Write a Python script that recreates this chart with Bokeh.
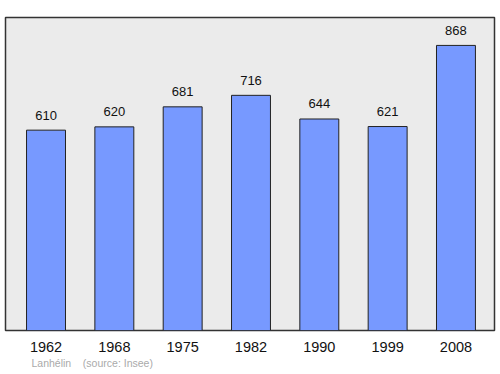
from bokeh.plotting import figure
from bokeh.models import FixedTicker, Range1d, ColumnDataSource, Title
from bokeh.core.properties import value
from bokeh.embed import file_html
from bokeh.resources import INLINE

years = ["1962", "1968", "1975", "1982", "1990", "1999", "2008"]
population = [610, 620, 681, 716, 644, 621, 868]

xs = list(range(len(years)))
src = ColumnDataSource(dict(x=xs, top=population, label=[str(v) for v in population]))

p = figure(width=500, height=374, output_backend="svg", toolbar_location=None,
           x_range=Range1d(-0.593, 6.564), y_range=Range1d(0, 953),
           min_border_left=5, min_border_right=6, min_border_top=17, min_border_bottom=44)
p.background_fill_color = "#ebebeb"
p.border_fill_color = "white"
p.outline_line_color = "#333333"
p.outline_line_width = 1.5
p.grid.visible = False
p.yaxis.visible = False

p.vbar(x="x", top="top", bottom=0, width=0.57, source=src,
       fill_color="#7799ff", line_color="#222222", line_width=1)
p.text(x="x", y="top", text="label", source=src, y_offset=-15,
       text_align="center", text_baseline="alphabetic",
       text_font=value("Liberation Sans"), text_font_size="13px", text_color="#111111")

ax = p.xaxis[0]
ax.ticker = FixedTicker(ticks=xs)
ax.major_label_overrides = {i: y for i, y in enumerate(years)}
ax.axis_line_color = None
ax.major_tick_line_color = None
ax.minor_tick_line_color = None
ax.major_tick_out = 0
ax.major_label_standoff = 11
ax.major_label_text_font = "Liberation Sans"
ax.major_label_text_font_size = "14.5px"
ax.major_label_text_color = "#111111"

t = Title(text="Lanhélin\u00a0\u00a0\u00a0\u00a0(source: Insee)", align="left", offset=26,
          text_font="Liberation Sans", text_font_size="10.5px",
          text_color="#aaaaaa", text_font_style="normal", standoff=0)
p.add_layout(t, "below")

open("out.html", "w").write(file_html(p, INLINE))
